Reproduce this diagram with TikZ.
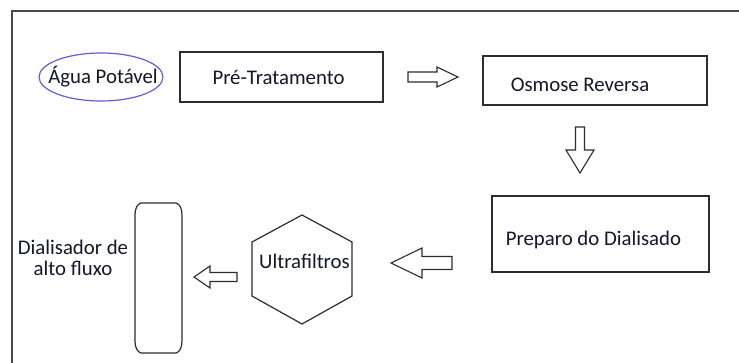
\documentclass[tikz,border=0pt]{standalone}
\usepackage{fontspec}
\setmainfont{Carlito}
\usetikzlibrary{shapes.geometric}
\definecolor{txt}{RGB}{20,22,42}
\definecolor{edge}{RGB}{45,45,45}
\definecolor{framec}{RGB}{75,75,75}
\definecolor{ellc}{RGB}{95,95,215}
\begin{document}
\begin{tikzpicture}[x=1pt,y=-1pt,
  frameline/.style={draw=framec,line width=2pt},
  box/.style={draw=edge,line width=1.2pt,rectangle,inner sep=0pt},
  lbl/.style={text=txt,font=\fontsize{20.8}{20.5}\selectfont,inner sep=0pt},
  blockarrow/.style={draw=edge,line width=1.1pt,line join=miter},
  shapeline/.style={draw=edge,line width=1.2pt}]
\useasboundingbox (0,0) rectangle (739,362);
\fill[white] (0,0) rectangle (739,362);
% outer frame
\draw[frameline] (12,363) -- (12,11) -- (740,11);
% nodes
\node[draw=ellc,line width=1.2pt,ellipse,minimum width=124pt,minimum height=48pt,inner sep=0pt] (agua) at (101,77) {};
\node[lbl] (aguatxt) at (103,77) {Água Potável};
\node[box,minimum width=203pt,minimum height=50pt] (pre) at (281.5,77) {};
\node[lbl] (pretxt) at (278.5,77) {Pré-Tratamento};
\node[box,minimum width=224pt,minimum height=49pt] (osm) at (595,80.5) {};
\node[lbl] (osmtxt) at (580,85) {Osmose Reversa};
\node[box,minimum width=217pt,minimum height=76pt] (prep) at (600.5,234) {};
\node[lbl] (preptxt) at (593.5,240) {Preparo do Dialisado};
\node[lbl] (ultxt) at (304.5,261) {Ultrafiltros};
\node[lbl,align=center] (dialtxt) at (73,258) {Dialisador de\\alto fluxo};
% hexagon
\draw[shapeline,line join=miter] (302,215) -- (352,242) -- (352,296) -- (302,324) -- (252,296) -- (252,242) -- cycle;
% dialyzer
\draw[shapeline] (141,203) -- (176,203) .. controls (180,204) and (182,209) .. (182,215)
  -- (182,341) .. controls (182,347) and (180,352) .. (176,353)
  -- (141,353) .. controls (137,352) and (135,347) .. (135,341)
  -- (135,215) .. controls (135,209) and (137,204) .. (141,203) -- cycle;
% block arrows
\draw[blockarrow] (408,72) -- (437,72) -- (437,67) -- (458,77) -- (437,87) -- (437,82) -- (408,82) -- cycle;
\draw[blockarrow] (575.5,127) -- (584.5,127) -- (584.5,150) -- (594,150) -- (580,173) -- (566,150) -- (575.5,150) -- cycle;
\draw[blockarrow] (452,256.5) -- (422,256.5) -- (422,248) -- (391,263) -- (422,278) -- (422,269.5) -- (452,269.5) -- cycle;
\draw[blockarrow] (237,272.5) -- (210,272.5) -- (210,266) -- (194,277) -- (210,288) -- (210,281.5) -- (237,281.5) -- cycle;
\end{tikzpicture}
\end{document}
